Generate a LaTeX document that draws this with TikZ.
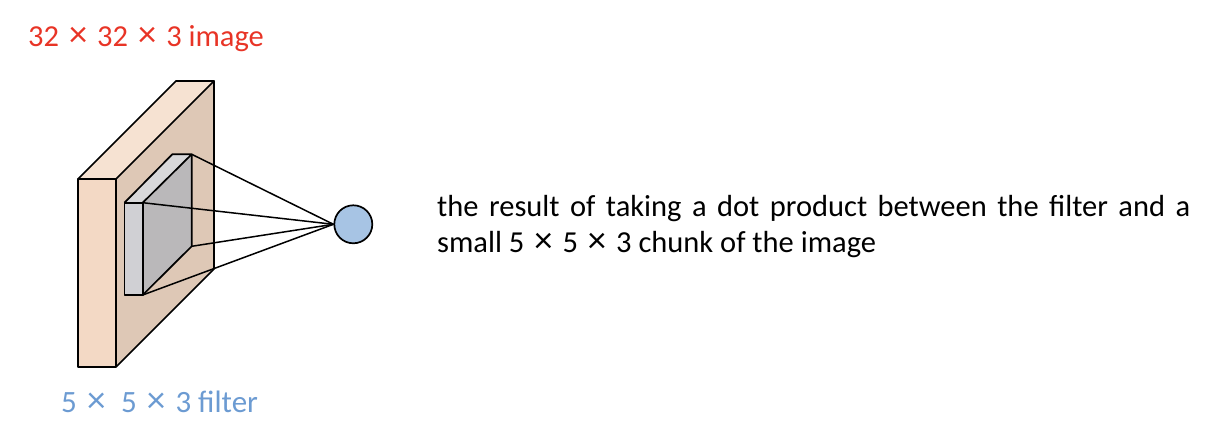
\documentclass[tikz,border=0pt]{standalone}
\usepackage{fontspec}
\setmainfont{Carlito}
\definecolor{slabfront}{RGB}{243,217,197}
\definecolor{slabtop}{RGB}{246,226,210}
\definecolor{slabside}{RGB}{222,200,182}
\definecolor{filfront}{RGB}{208,208,212}
\definecolor{filtop}{RGB}{216,216,218}
\definecolor{filside}{RGB}{186,184,186}
\definecolor{neuron}{RGB}{167,196,228}
\definecolor{redtxt}{RGB}{232,52,38}
\definecolor{bluetxt}{RGB}{108,155,210}
\newcommand{\bigtimes}{\hspace{0.1em}\scalebox{1.2}{×}\hspace{0.1em}}
\begin{document}
\begin{tikzpicture}[x=1bp,y=-1bp,
  face/.style={draw=black,line width=1.7bp,line join=round},
  conn/.style={draw=black,line width=1.5bp},
  lbl/.style={inner sep=0pt,anchor=base west}]
\useasboundingbox (0,0) rectangle (1228,440);
% slab (image)
\coordinate (sA) at (78,179);
\coordinate (sB) at (116,179);
\coordinate (sC) at (116,367);
\coordinate (sD) at (78,367);
\coordinate (sE) at (176,81);
\coordinate (sF) at (214,81);
\coordinate (sG) at (214,269);
\fill[slabfront] (sA) -- (sB) -- (sC) -- (sD) -- cycle;
\fill[slabtop] (sA) -- (sB) -- (sF) -- (sE) -- cycle;
\fill[slabside] (sB) -- (sF) -- (sG) -- (sC) -- cycle;
\draw[face] (sA) -- (sB) -- (sC) -- (sD) -- cycle;
\draw[face] (sA) -- (sE) -- (sF) -- (sB);
\draw[face] (sF) -- (sG) -- (sC);
% filter
\coordinate (fA) at (124.5,202.7);
\coordinate (fB) at (142.7,202.7);
\coordinate (fC) at (142.7,295);
\coordinate (fD) at (124.5,295);
\coordinate (fE) at (172.3,154.3);
\coordinate (fF) at (191.7,154.3);
\coordinate (fG) at (191.7,246.3);
\fill[filfront] (fA) -- (fB) -- (fC) -- (fD) -- cycle;
\fill[filtop] (fA) -- (fB) -- (fF) -- (fE) -- cycle;
\fill[filside] (fB) -- (fF) -- (fG) -- (fC) -- cycle;
\draw[face] (fA) -- (fB) -- (fC) -- (fD) -- cycle;
\draw[face] (fA) -- (fE) -- (fF) -- (fB);
\draw[face] (fF) -- (fG) -- (fC);
% neuron
\node[circle,draw=black,line width=1.7bp,fill=neuron,minimum size=38bp,inner sep=0pt] (n) at (353.3,224.3) {};
% connectors
\draw[conn] (fF) -- (n.west);
\draw[conn] (fB) -- (n.west);
\draw[conn] (fG) -- (n.west);
\draw[conn] (fC) -- (n.west);
% labels
\node[lbl,text=redtxt,font=\fontsize{30.5bp}{36bp}\selectfont] (title) at (28,47) {32 \bigtimes\ 32 \bigtimes\ 3 image};
\node[lbl,text=bluetxt,font=\fontsize{31bp}{36bp}\selectfont] (flabel) at (61,413) {5 \bigtimes\hspace{0.4em}5 \bigtimes\ 3 filter};
\node[lbl,font=\fontsize{30.5bp}{34bp}\selectfont] (desc1) at (437,216.7) {\makebox[753bp][s]{the result of taking a dot product between the filter and a}};
\node[lbl,font=\fontsize{30.5bp}{34bp}\selectfont] (desc2) at (437,253) {small 5 \bigtimes\ 5 \bigtimes\ 3 chunk of the image};
\end{tikzpicture}
\end{document}
